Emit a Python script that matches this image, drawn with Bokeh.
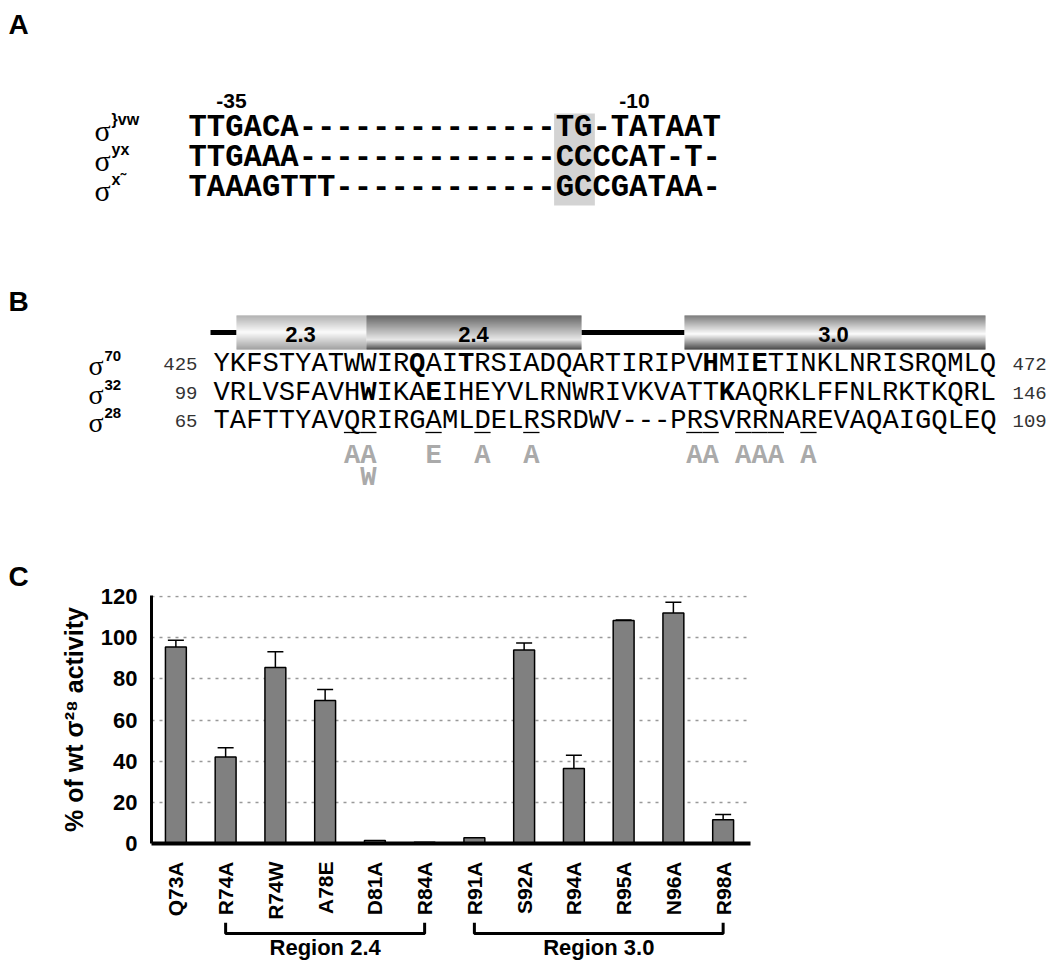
import math
from bokeh.plotting import figure
from bokeh.models import Range1d, FixedTicker, Whisker, ColumnDataSource, TeeHead
from bokeh.core.properties import value
from bokeh.embed import file_html
from bokeh.resources import INLINE

# ---------------- data ----------------
# Panel A: promoter alignment
promoter_sigma_sup = ["}vw", "yx", "x\u02dc"]
promoter_seqs = [
    "TTGACA--------------TG-TATAAT",
    "TTGAAA--------------CCCCAT-T-",
    "TAAAGTTT------------GCCGATAA-",
]
promoter_marks = ["-35", "-10"]
promoter_box_cols = [20, 21]

# Panel B: sigma sequence alignment
helix_names = ["2.3", "2.4", "3.0"]
sigma_names = ["70", "32", "28"]
seq_first = [425, 99, 65]
seq_last = [472, 146, 109]
seqs = [
    "YKFSTYATWWIRQAITRSIADQARTIRIPVHMIETINKLNRISRQMLQ",
    "VRLVSFAVHWIKAEIHEYVLRNWRIVKVATTKAQRKLFFNLRKTKQRL",
    "TAFTTYAVQRIRGAMLDELRSRDWV---PRSVRRNAREVAQAIGQLEQ",
]
bold_cols = [[12, 15, 30, 33], [9, 13, 31], []]
gap_after_residue = 89
gap_len = 3

# Panel C: activity of sigma28 mutants
mutants = ["Q73A", "R74A", "R74W", "A78E", "D81A", "R84A",
           "R91A", "S92A", "R94A", "R95A", "N96A", "R98A"]
activity = [95.5, 42.0, 85.5, 69.5, 1.4, 0.6, 2.8, 94.0, 36.5, 108.3, 112.0, 11.5]
activity_err = [3.2, 4.5, 7.7, 5.3, 0.0, 0.0, 0.0, 3.4, 6.4, 0.3, 5.2, 2.6]
y_ticks = [0, 20, 40, 60, 80, 100, 120]
regions = ["Region 2.4", "Region 3.0"]
region_first = ["R74A", "R91A"]
region_last = ["R84A", "R98A"]

# ---------------- style helpers ----------------
SANS = value("Liberation Sans")
MONO = value("Liberation Mono")
SERIF = value("Liberation Serif")
W = 1050
TOP_H, C_H, BR_H = 550, 372, 38
C_TOP = TOP_H                # page y where panel C figure starts
BR_TOP = C_TOP + C_H         # page y where bracket figure starts
FRAME_L, FRAME_R, FRAME_T, FRAME_B = 151, 750, 595, 849


def gray(v):
    g = max(0, min(255, int(round(v))))
    return "#%02x%02x%02x" % (g, g, g)


def profile(t, top, pk_t, pk, bot):
    if t <= pk_t:
        return top + (pk - top) * t / pk_t
    return pk + (bot - pk) * (t - pk_t) / (1 - pk_t)


# ---------------- top figure (panels A and B), page-pixel coordinates ----------------
t = figure(width=W, height=TOP_H, x_range=Range1d(0, W), y_range=Range1d(TOP_H, 0),
           output_backend="svg", toolbar_location=None, x_axis_type=None, y_axis_type=None,
           min_border=0)
t.outline_line_color = None
t.grid.visible = False

t.text(x=[8, 8], y=[24, 301], text=["A", "B"], text_font=SANS, text_font_style="bold",
       text_font_size="28px", text_baseline="middle", text_align="left")

# Panel A
a_x0, a_w = 188, 18.38
a_rows = [127, 157, 187]
bx0 = a_x0 + promoter_box_cols[0] * a_w - 2
bx1 = a_x0 + (promoter_box_cols[-1] + 1) * a_w + 2
t.quad(left=[bx0], right=[bx1], top=[113], bottom=[205], fill_color="#d3d3d3", line_color=None)
t.text(x=[231, 634], y=[100, 100], text=promoter_marks, text_font=SANS, text_font_style="bold",
       text_font_size="21px", text_baseline="middle", text_align="center")
t.text(x=[a_x0] * 3, y=a_rows, text=promoter_seqs, text_font=MONO, text_font_style="bold",
       text_font_size="30.6px", text_baseline="middle", text_align="left")
t.text(x=[94] * 3, y=[r + 3 for r in a_rows], text=["\u03c3"] * 3, text_font=SERIF,
       text_font_size="30px", text_baseline="middle", text_align="left")
t.text(x=[111] * 3, y=[r - 8 for r in a_rows], text=promoter_sigma_sup, text_font=SANS,
       text_font_style="bold", text_font_size="16px", text_baseline="middle", text_align="left")

# Panel B: helix cylinders
cyl_top, cyl_bot = 315, 349
cylinders = [  # x0, x1, top, peak_t, peak, bottom
    (236, 366, 150, 0.5, 250, 130),
    (366, 581, 50, 0.72, 225, 20),
    (684, 985, 80, 0.55, 252, 15),
]
t.segment(x0=[210, 581], y0=[332, 332], x1=[236, 684], y1=[332, 332], line_color="black",
          line_width=5)
ql, qr, qt, qb, qc = [], [], [], [], []
n = cyl_bot - cyl_top
for (x0, x1, top, pk_t, pk, bot) in cylinders:
    for k in range(n):
        tt = (k + 0.5) / n
        ql.append(x0); qr.append(x1); qt.append(cyl_top + k); qb.append(cyl_top + k + 1)
        qc.append(gray(profile(tt, top, pk_t, pk, bot)))
t.quad(left=ql, right=qr, top=qt, bottom=qb, fill_color=qc, line_color=None)
t.text(x=[300, 473, 833], y=[334] * 3, text=helix_names, text_font=SANS, text_font_style="bold",
       text_font_size="22px", text_baseline="middle", text_align="center")

# Panel B: sequences
b_x0, b_w = 213, 16.3
b_rows = [363, 392, 420]
seg_x, seg_y, seg_t, seg_bold = [], [], [], []
for r, (s, bc) in enumerate(zip(seqs, bold_cols)):
    start = 0
    while start < len(s):
        is_b = start in bc
        end = start + 1
        while end < len(s) and not is_b and end not in bc:
            end += 1
        seg_x.append(b_x0 + start * b_w); seg_y.append(b_rows[r]); seg_t.append(s[start:end])
        seg_bold.append(is_b)
        start = end
norm = [i for i, b in enumerate(seg_bold) if not b]
bold = [i for i, b in enumerate(seg_bold) if b]
t.text(x=[seg_x[i] for i in norm], y=[seg_y[i] for i in norm], text=[seg_t[i] for i in norm],
       text_font=MONO, text_font_size="27.2px", text_baseline="middle", text_align="left")
t.text(x=[seg_x[i] for i in bold], y=[seg_y[i] for i in bold], text=[seg_t[i] for i in bold],
       text_font=MONO, text_font_style="bold", text_font_size="27.2px", text_baseline="middle",
       text_align="left")
t.text(x=[197] * 3, y=b_rows, text=[str(v) for v in seq_first], text_font=MONO,
       text_font_size="19px", text_color="#333333", text_baseline="middle", text_align="right")
t.text(x=[1012] * 3, y=b_rows, text=[str(v) for v in seq_last], text_font=MONO,
       text_font_size="19px", text_color="#333333", text_baseline="middle", text_align="left")
t.text(x=[88] * 3, y=[r + 2 for r in b_rows], text=["\u03c3"] * 3, text_font=SERIF,
       text_font_size="28px", text_baseline="middle", text_align="left")
t.text(x=[104] * 3, y=[r - 8 for r in b_rows], text=sigma_names, text_font=SANS,
       text_font_style="bold", text_font_size="15px", text_baseline="middle", text_align="left")


# mutated residues (underlines + substitutions)
def col_of(res):
    c = res - seq_first[2]
    return c + gap_len if res > gap_after_residue else c


mx, my, mt, used = [], [], [], {}
ux0, ux1 = [], []
for m in mutants:
    col = col_of(int(m[1:-1]))
    lvl = used.get(col, 0)
    used[col] = lvl + 1
    mx.append(b_x0 + (col + 0.5) * b_w); my.append(455 + 22 * lvl); mt.append(m[-1])
    if lvl == 0:
        ux0.append(b_x0 + col * b_w); ux1.append(b_x0 + (col + 1) * b_w)
t.segment(x0=ux0, y0=[432] * len(ux0), x1=ux1, y1=[432] * len(ux0), line_color="black",
          line_width=1.3)
t.text(x=mx, y=my, text=mt, text_font=MONO, text_font_style="bold", text_font_size="27.2px",
       text_color="#aaaaaa", text_baseline="middle", text_align="center")

# ---------------- panel C: bar chart ----------------
idx = list(range(len(mutants)))
c = figure(width=W, height=C_H, x_range=Range1d(-0.49, 11.55), y_range=Range1d(0, 120.5),
           output_backend="svg", toolbar_location=None, title="C",
           min_border_left=FRAME_L, min_border_right=W - FRAME_R,
           min_border_top=FRAME_T - C_TOP, min_border_bottom=BR_TOP - FRAME_B)
c.outline_line_color = None
c.title.align = "left"
c.title.offset = 8 - FRAME_L
c.title.standoff = 8
c.title.text_baseline = "middle"
c.title.text_font = "Liberation Sans"
c.title.text_font_style = "bold"
c.title.text_font_size = "28px"
c.title.text_color = "black"

c.xgrid.visible = False
c.ygrid.ticker = FixedTicker(ticks=y_ticks)
c.ygrid.grid_line_color = "#999999"
c.ygrid.grid_line_dash = "3 5"
c.ygrid.grid_line_width = 1.5

c.vbar(x=idx, top=activity, width=0.42, fill_color="#808080", line_color="black", line_width=1.5)
err_src = ColumnDataSource(data=dict(
    x=[i for i in idx if activity_err[i] > 0],
    upper=[activity[i] + activity_err[i] for i in idx if activity_err[i] > 0],
    lower=[activity[i] - activity_err[i] for i in idx if activity_err[i] > 0],
))
c.add_layout(Whisker(source=err_src, base="x", upper="upper", lower="lower", line_width=1.5,
                     upper_head=TeeHead(size=16, line_width=1.5),
                     lower_head=TeeHead(size=16, line_width=1.5)))

c.yaxis.ticker = FixedTicker(ticks=y_ticks)
c.yaxis.axis_line_width = 3
c.yaxis.major_tick_line_color = None
c.yaxis.minor_tick_line_color = None
c.yaxis.major_label_text_font = "Liberation Sans"
c.yaxis.major_label_text_font_style = "bold"
c.yaxis.major_label_text_font_size = "22px"
c.yaxis.major_label_text_color = "black"
c.yaxis.major_label_standoff = 8
c.yaxis.axis_label = "% of wt \u03c3\u00b2\u2078 activity"
c.yaxis.axis_label_text_font = "Liberation Sans"
c.yaxis.axis_label_text_font_style = "bold"
c.yaxis.axis_label_text_font_size = "25px"
c.yaxis.axis_label_text_color = "black"
c.yaxis.axis_label_standoff = 10

c.xaxis.ticker = FixedTicker(ticks=idx)
c.xaxis.major_label_overrides = {i: m for i, m in enumerate(mutants)}
c.xaxis.major_label_orientation = math.pi / 2
c.xaxis.axis_line_width = 4
c.xaxis.major_tick_line_color = None
c.xaxis.minor_tick_line_color = None
c.xaxis.major_label_text_font = "Liberation Sans"
c.xaxis.major_label_text_font_style = "bold"
c.xaxis.major_label_text_font_size = "21px"
c.xaxis.major_label_text_color = "black"
c.xaxis.major_label_standoff = 12

# ---------------- region brackets ----------------
br = figure(width=W, height=BR_H, x_range=c.x_range, y_range=Range1d(BR_TOP + BR_H, BR_TOP),
            output_backend="svg", toolbar_location=None, x_axis_type=None, y_axis_type=None,
            min_border_left=FRAME_L, min_border_right=W - FRAME_R, min_border_top=0,
            min_border_bottom=0)
br.outline_line_color = None
br.grid.visible = False
bxs, bys, tx = [], [], []
for name, f, l in zip(regions, region_first, region_last):
    i0, i1 = mutants.index(f), mutants.index(l)
    bxs.append([i0, i0, i1, i1]); bys.append([BR_TOP, 933, 933, BR_TOP])
    tx.append((i0 + i1) / 2)
br.multi_line(xs=bxs, ys=bys, line_color="black", line_width=3)
br.text(x=tx, y=[947] * len(tx), text=regions, text_font=SANS, text_font_style="bold",
        text_font_size="22px", text_baseline="middle", text_align="center")

open("out.html", "w").write(file_html([t, c, br], INLINE))
